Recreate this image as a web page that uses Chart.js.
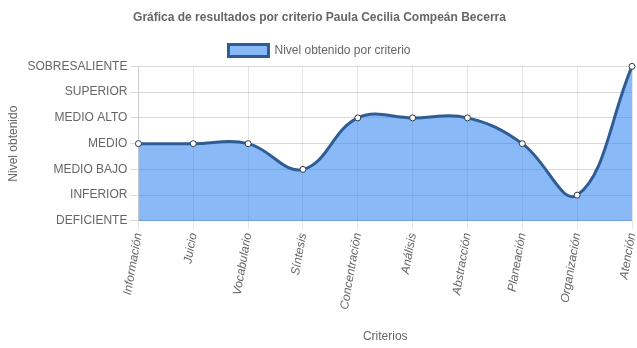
<!DOCTYPE html>
<html><head><meta charset="utf-8">
<script src="https://cdn.jsdelivr.net/npm/chart.js@4/dist/chart.umd.min.js"></script>
<style>html,body{margin:0;padding:0;background:#fff}#wrap{width:637px;height:348px}</style>
</head><body><div id="wrap"><canvas id="c"></canvas></div>
<script>
const categories = ["Información","Juicio","Vocabulario","Síntesis","Concentración","Análisis","Abstracción","Planeación","Organización","Atención"];
const levelLabels = ["DEFICIENTE","INFERIOR","MEDIO BAJO","MEDIO","MEDIO ALTO","SUPERIOR","SOBRESALIENTE"];
const values = [3,3,3,2,4,4,4,3,1,6];

Chart.defaults.font.family = "'Liberation Sans', Arial, sans-serif";
Chart.defaults.font.size = 12;
Chart.defaults.color = "#666";

new Chart(document.getElementById('c'), {
  type: 'line',
  data: {
    labels: categories,
    datasets: [{
      label: 'Nivel obtenido por criterio',
      data: values,
      fill: true,
      clip: false,
      backgroundColor: 'rgba(40,130,240,0.55)',
      borderColor: '#2e5d96',
      borderWidth: 3,
      tension: 0.4,
      pointRadius: 3,
      pointBorderWidth: 1,
      pointBackgroundColor: '#fff',
      pointBorderColor: '#2b3a4a'
    }]
  },
  options: {
    responsive: true,
    maintainAspectRatio: false,
    animation: false,
    layout: {padding: {top: 0, right: 0, bottom: 0, left: 2}},
    plugins: {
      title: {display: true, text: 'Gráfica de resultados por criterio Paula Cecilia Compeán Becerra', font: {size: 12, weight: 'bold'}, color: '#666', padding: {top: 10, bottom: 10}},
      legend: {display: true, labels: {boxWidth: 40, boxHeight: 12, font: {size: 12}}},
      tooltip: {enabled: false}
    },
    scales: {
      x: {
        title: {display: true, text: 'Criterios', font: {size: 12}, padding: {top: 16, bottom: 4}},
        ticks: {minRotation: 80, maxRotation: 80, font: {style: 'italic', size: 12}},
        grid: {color: 'rgba(0,0,0,0.1)'},
        afterFit: (s) => { s.paddingRight = 3; }
      },
      y: {
        min: 0, max: 6,
        title: {display: true, text: 'Nivel obtenido', font: {size: 12}},
        ticks: {stepSize: 1, callback: (v) => levelLabels[v], font: {size: 12}},
        grid: {color: 'rgba(0,0,0,0.15)'}
      }
    }
  }
});
</script></body></html>
